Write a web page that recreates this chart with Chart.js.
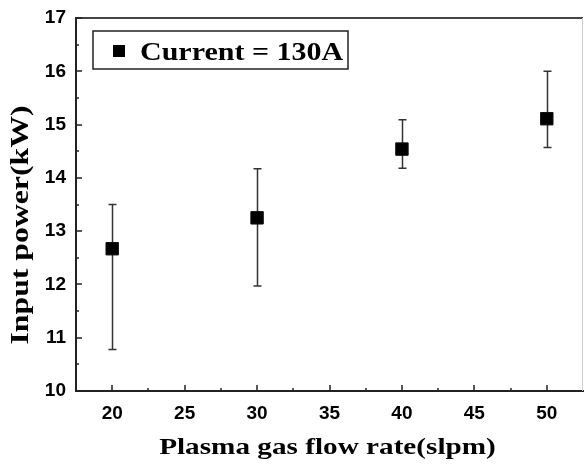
<!DOCTYPE html>
<html>
<head>
<meta charset="utf-8">
<script src="https://cdn.jsdelivr.net/npm/chart.js@4"></script>
<style>
  html, body { margin: 0; padding: 0; background: #fff; }
  #wrap { width: 584px; height: 470px; position: relative; }
</style>
</head>
<body>
<div id="wrap"><canvas id="c" width="584" height="470"></canvas></div>
<script>
// ---- data ----
const flowRates = [20, 30, 40, 50];            // slpm
const inputPower = [12.67, 13.25, 14.54, 15.11]; // kW
const errLow  = [10.78, 11.97, 14.18, 14.57];
const errHigh = [13.50, 14.17, 15.09, 16.00];
const seriesLabel = 'Current = 130A';
const xTitle = 'Plasma gas flow rate(slpm)';
const yTitle = 'Input power(kW)';
const xMajorTicks = [20, 25, 30, 35, 40, 45, 50];
const xMinorTicks = [22.5, 27.5, 32.5, 37.5, 42.5, 47.5];
const yMajorTicks = [10, 11, 12, 13, 14, 15, 16, 17];
const yMinorTicks = [10.5, 11.5, 12.5, 13.5, 14.5, 15.5, 16.5];

const serif = '"Liberation Serif", "Times New Roman", serif';
const sans = '"Liberation Sans", Arial, sans-serif';

function wideText(ctx, text, x, y, sx) {
  ctx.save();
  ctx.translate(x, y);
  ctx.scale(sx, 1);
  ctx.fillText(text, 0, 0);
  ctx.restore();
}

const decorPlugin = {
  id: 'decor',
  beforeDatasetsDraw(chart) {
    const { ctx, chartArea: a, scales: { x, y } } = chart;
    ctx.save();
    // frame: top and right
    ctx.strokeStyle = '#444';
    ctx.lineWidth = 2;
    ctx.beginPath();
    ctx.moveTo(a.left, a.top);
    ctx.lineTo(a.right, a.top);
    ctx.stroke();
    ctx.strokeStyle = '#ccc';
    ctx.lineWidth = 1;
    ctx.beginPath();
    ctx.moveTo(a.right - 0.5, a.top);
    ctx.lineTo(a.right - 0.5, a.bottom);
    ctx.stroke();
    // inward ticks
    ctx.strokeStyle = '#222';
    ctx.lineWidth = 1.5;
    ctx.beginPath();
    xMajorTicks.forEach(v => { const px = Math.round(x.getPixelForValue(v)); ctx.moveTo(px, a.bottom); ctx.lineTo(px, a.bottom - 6); });
    xMinorTicks.forEach(v => { const px = Math.round(x.getPixelForValue(v)); ctx.moveTo(px, a.bottom); ctx.lineTo(px, a.bottom - 3); });
    yMajorTicks.forEach(v => { const py = Math.round(y.getPixelForValue(v)); ctx.moveTo(a.left, py); ctx.lineTo(a.left + 6, py); });
    yMinorTicks.forEach(v => { const py = Math.round(y.getPixelForValue(v)); ctx.moveTo(a.left, py); ctx.lineTo(a.left + 3, py); });
    ctx.stroke();
    // error bars
    ctx.strokeStyle = '#333';
    ctx.lineWidth = 1.5;
    ctx.beginPath();
    flowRates.forEach((f, i) => {
      const px = Math.round(x.getPixelForValue(f)) + 0.5;
      const lo = y.getPixelForValue(errLow[i]);
      const hi = y.getPixelForValue(errHigh[i]);
      ctx.moveTo(px, lo); ctx.lineTo(px, hi);
      ctx.moveTo(px - 4, lo); ctx.lineTo(px + 4, lo);
      ctx.moveTo(px - 4, hi); ctx.lineTo(px + 4, hi);
    });
    ctx.stroke();
    ctx.restore();
  },
  afterDraw(chart) {
    const { ctx, chartArea: a } = chart;
    ctx.save();
    // legend box
    const lx = a.left + 17, ly = a.top + 13, lw = 255, lh = 38;
    ctx.strokeStyle = '#222';
    ctx.lineWidth = 1.5;
    ctx.strokeRect(lx, ly, lw, lh);
    ctx.fillStyle = '#000';
    ctx.fillRect(lx + 20, ly + 14, 12, 12);
    ctx.font = 'bold 25px ' + serif;
    ctx.textBaseline = 'alphabetic';
    ctx.textAlign = 'left';
    wideText(ctx, chart.data.datasets[0].label, lx + 47, ly + 29, 1.2);
    // axis titles
    ctx.font = 'bold 23px ' + serif;
    ctx.textAlign = 'center';
    wideText(ctx, xTitle, (a.left + a.right) / 2 - 2, 454, 1.27);
    ctx.font = 'bold 25px ' + serif;
    ctx.translate(28, 225);
    ctx.rotate(-Math.PI / 2);
    wideText(ctx, yTitle, 0, 0, 1.27);
    ctx.restore();
  }
};

new Chart(document.getElementById('c'), {
  type: 'scatter',
  data: {
    datasets: [{
      label: seriesLabel,
      data: flowRates.map((f, i) => ({ x: f, y: inputPower[i] })),
      pointStyle: 'rect',
      pointRadius: 8.8,
      pointHoverRadius: 8.8,
      backgroundColor: '#000',
      borderColor: '#111',
      borderWidth: 1,
      clip: false
    }]
  },
  options: {
    responsive: false,
    animation: false,
    devicePixelRatio: 1,
    layout: { autoPadding: false, padding: { top: 18, right: 1, left: 0, bottom: 0 } },
    plugins: { legend: { display: false }, tooltip: { enabled: false } },
    scales: {
      x: {
        type: 'linear',
        min: 17.5, max: 52.5,
        afterFit(s) { s.height = 79; s.paddingLeft = 0; s.paddingRight = 0; },
        afterBuildTicks(s) { s.ticks = xMajorTicks.map(v => ({ value: v })); },
        grid: { display: true, drawOnChartArea: false, drawTicks: false },
        border: { display: true, color: '#222', width: 2 },
        ticks: { padding: 11, color: '#000', font: { family: sans, size: 19, weight: 'bold' } }
      },
      y: {
        type: 'linear',
        min: 10, max: 17,
        afterFit(s) { s.width = 76; s.paddingTop = 0; s.paddingBottom = 0; },
        afterBuildTicks(s) { s.ticks = yMajorTicks.map(v => ({ value: v })); },
        grid: { display: true, drawOnChartArea: false, drawTicks: false },
        border: { display: true, color: '#222', width: 2 },
        ticks: { padding: 10, color: '#000', font: { family: sans, size: 19, weight: 'bold' } }
      }
    }
  },
  plugins: [decorPlugin]
});
</script>
</body>
</html>
